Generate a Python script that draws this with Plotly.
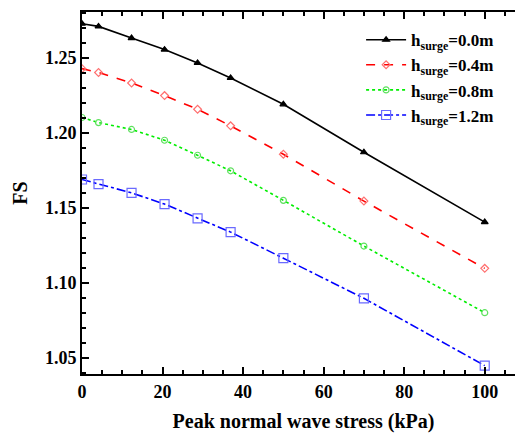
import plotly.graph_objects as go

stress = [0, 4.1, 12.3, 20.5, 28.7, 36.9, 50, 70, 100]
fs_00 = [1.2729, 1.2711, 1.2633, 1.2556, 1.2467, 1.2367, 1.2191, 1.1871, 1.1405]
fs_04 = [1.2429, 1.2403, 1.2333, 1.2249, 1.2158, 1.2047, 1.1858, 1.1545, 1.1096]
fs_08 = [1.2103, 1.2069, 1.2023, 1.1951, 1.1851, 1.1747, 1.1550, 1.1245, 1.0800]
fs_12 = [1.1689, 1.1658, 1.1600, 1.1525, 1.1430, 1.1338, 1.1164, 1.0896, 1.0447]
names = ["h<sub>surge</sub>=0.0m", "h<sub>surge</sub>=0.4m",
         "h<sub>surge</sub>=0.8m", "h<sub>surge</sub>=1.2m"]
xticks = [0, 20, 40, 60, 80, 100]
yticks = [1.05, 1.10, 1.15, 1.20, 1.25]
yticklabels = ["1.05", "1.10", "1.15", "1.20", "1.25"]

FONT = "Liberation Serif"

fig = go.Figure()
styles = [
    ("black", "solid", "triangle-up", 6, "black"),
    ("#ff0000", "dash", "diamond-open", 6, "#ff7070"),
    ("#00ee00", "dot", "circle-open", 6, "#60e060"),
    ("#0000ff", "dashdot", "square-open", 9, "#6a6aff"),
]
for ys, (lc, dash, sym, sz, mc), nm in zip([fs_00, fs_04, fs_08, fs_12], styles, names):
    fig.add_trace(go.Scatter(
        x=stress, y=ys, name="<b>" + nm + "</b>", mode="lines+markers",
        line=dict(color=lc, width=1.6, dash=dash),
        marker=dict(symbol=sym, size=sz, color=mc, line=dict(color=mc, width=1.2)),
    ))

tickfont = dict(family=FONT, size=18, color="black", weight="bold")
xr = [0, 110]
yr = [1.0391, 1.2807]
common = dict(ticks="inside", ticklen=7, tickwidth=2, tickcolor="black",
              showgrid=False, zeroline=False, automargin=False,
              showline=True, linewidth=2, linecolor="black", mirror="ticks")
fig.update_layout(
    width=523, height=434,
    margin=dict(l=74, r=6, t=4, b=68),
    paper_bgcolor="white", plot_bgcolor="white",
    font=dict(family=FONT, color="black"),
    xaxis=dict(range=xr, tickvals=xticks,
               minor=dict(dtick=5, ticks="inside", ticklen=4, tickwidth=1.5, tickcolor="black"),
               tickfont=tickfont,
               title=dict(text="Peak normal wave stress (kPa)",
                          font=dict(family=FONT, size=20, color="black", weight="bold"), standoff=13),
               **common),
    yaxis=dict(range=yr, tickvals=yticks, ticktext=yticklabels,
               minor=dict(dtick=0.01, tick0=1.0, ticks="inside", ticklen=4, tickwidth=1.5, tickcolor="black"),
               tickfont=tickfont,
               title=dict(text="FS", font=dict(family=FONT, size=20, color="black", weight="bold"), standoff=12),
               **common),
    legend=dict(x=0.63, y=0.972, xanchor="left", yanchor="top",
                bgcolor="rgba(0,0,0,0)", itemwidth=40, tracegroupgap=0,
                font=dict(family=FONT, size=17, color="black")),
    showlegend=True,
)

fig.write_html("out.html")
